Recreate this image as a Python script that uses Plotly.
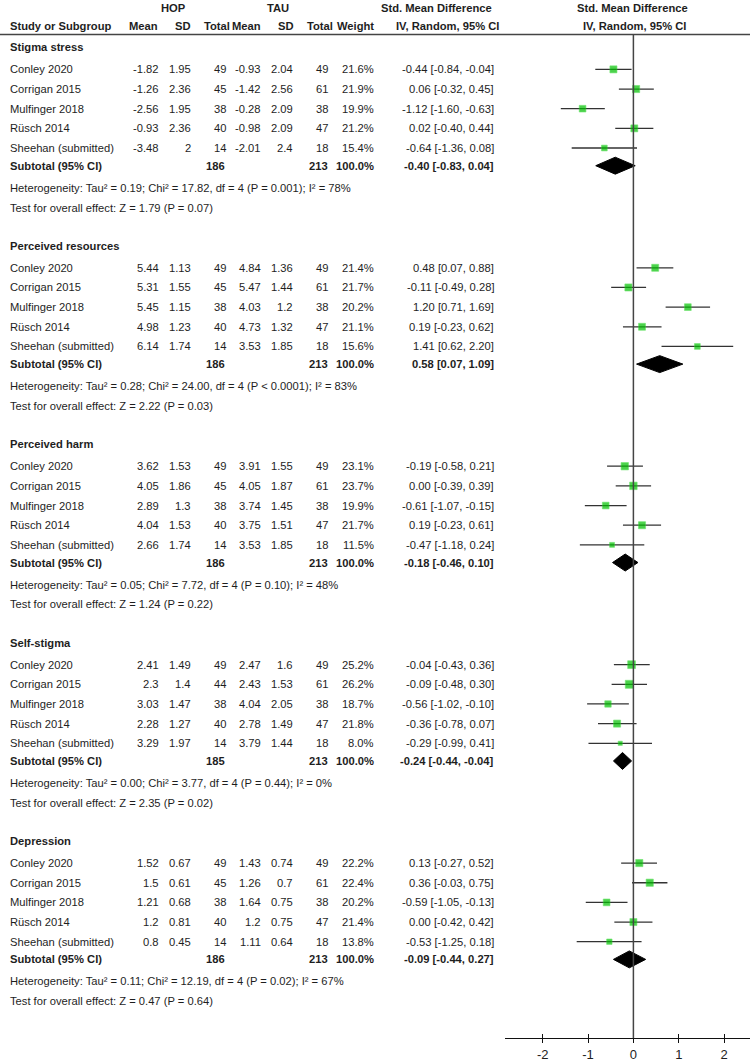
import plotly.graph_objects as go

# ---------------- data ----------------
groups = ["Stigma stress", "Perceived resources", "Perceived harm", "Self-stigma", "Depression"]
studies = ["Conley 2020", "Corrigan 2015", "Mulfinger 2018", "Rüsch 2014", "Sheehan (submitted)"]

hop_mean = [[-1.82, -1.26, -2.56, -0.93, -3.48],
            [5.44, 5.31, 5.45, 4.98, 6.14],
            [3.62, 4.05, 2.89, 4.04, 2.66],
            [2.41, 2.3, 3.03, 2.28, 3.29],
            [1.52, 1.5, 1.21, 1.2, 0.8]]
hop_sd = [[1.95, 2.36, 1.95, 2.36, 2],
          [1.13, 1.55, 1.15, 1.23, 1.74],
          [1.53, 1.86, 1.3, 1.53, 1.74],
          [1.49, 1.4, 1.47, 1.27, 1.97],
          [0.67, 0.61, 0.68, 0.81, 0.45]]
hop_n = [[49, 45, 38, 40, 14],
         [49, 45, 38, 40, 14],
         [49, 45, 38, 40, 14],
         [49, 44, 38, 40, 14],
         [49, 45, 38, 40, 14]]
tau_mean = [[-0.93, -1.42, -0.28, -0.98, -2.01],
            [4.84, 5.47, 4.03, 4.73, 3.53],
            [3.91, 4.05, 3.74, 3.75, 3.53],
            [2.47, 2.43, 4.04, 2.78, 3.79],
            [1.43, 1.26, 1.64, 1.2, 1.11]]
tau_sd = [[2.04, 2.56, 2.09, 2.09, 2.4],
          [1.36, 1.44, 1.2, 1.32, 1.85],
          [1.55, 1.87, 1.45, 1.51, 1.85],
          [1.6, 1.53, 2.05, 1.49, 1.44],
          [0.74, 0.7, 0.75, 0.75, 0.64]]
tau_n = [[49, 61, 38, 47, 18]] * 5
weights = [[21.6, 21.9, 19.9, 21.2, 15.4],
           [21.4, 21.7, 20.2, 21.1, 15.6],
           [23.1, 23.7, 19.9, 21.7, 11.5],
           [25.2, 26.2, 18.7, 21.8, 8.0],
           [22.2, 22.4, 20.2, 21.4, 13.8]]
smd = [[-0.44, 0.06, -1.12, 0.02, -0.64],
       [0.48, -0.11, 1.20, 0.19, 1.41],
       [-0.19, 0.00, -0.61, 0.19, -0.47],
       [-0.04, -0.09, -0.56, -0.36, -0.29],
       [0.13, 0.36, -0.59, 0.00, -0.53]]
smd_lo = [[-0.84, -0.32, -1.60, -0.40, -1.36],
          [0.07, -0.49, 0.71, -0.23, 0.62],
          [-0.58, -0.39, -1.07, -0.23, -1.18],
          [-0.43, -0.48, -1.02, -0.78, -0.99],
          [-0.27, -0.03, -1.05, -0.42, -1.25]]
smd_hi = [[-0.04, 0.45, -0.63, 0.44, 0.08],
          [0.88, 0.28, 1.69, 0.62, 2.20],
          [0.21, 0.39, -0.15, 0.61, 0.24],
          [0.36, 0.30, -0.10, 0.07, 0.41],
          [0.52, 0.75, -0.13, 0.42, 0.18]]
sub_est = [-0.40, 0.58, -0.18, -0.24, -0.09]
sub_lo = [-0.83, 0.07, -0.46, -0.44, -0.44]
sub_hi = [0.04, 1.09, 0.10, -0.04, 0.27]
sub_hop_n = [186, 186, 186, 185, 186]
sub_tau_n = [213, 213, 213, 213, 213]
heterogeneity = ["Tau² = 0.19; Chi² = 17.82, df = 4 (P = 0.001); I² = 78%",
                 "Tau² = 0.28; Chi² = 24.00, df = 4 (P < 0.0001); I² = 83%",
                 "Tau² = 0.05; Chi² = 7.72, df = 4 (P = 0.10); I² = 48%",
                 "Tau² = 0.00; Chi² = 3.77, df = 4 (P = 0.44); I² = 0%",
                 "Tau² = 0.11; Chi² = 12.19, df = 4 (P = 0.02); I² = 67%"]
overall = ["Z = 1.79 (P = 0.07)", "Z = 2.22 (P = 0.03)", "Z = 1.24 (P = 0.22)",
           "Z = 2.35 (P = 0.02)", "Z = 0.47 (P = 0.64)"]
x_ticks = [-2, -1, 0, 1, 2]

# ---------------- layout constants ----------------
W, H = 750, 1062
FONT = "Liberation Sans, Arial, sans-serif"
FS = 11.2
TXT = "#1e1e1e"
GREEN = "#00c000"

GROUP_Y0, GROUP_STEP = 47.5, 198.8
STUDY_OFF, STUDY_STEP = 22, 19.7
SUB_OFF, HET_OFF, TEST_OFF = 118.5, 140.5, 160.5

# right edges of columns (px)
COL = dict(hm=160, hs=192, hn=227, tm=262, ts=294, tn=329, w=375, ci=495)
NAME_X = 9

ann = []


def txt(x, y, s, anchor="right", bold=False, size=FS):
    ann.append(dict(x=x / W, y=y, xref="paper", yref="y",
                    text=f"<b>{s}</b>" if bold else s, showarrow=False,
                    xanchor=anchor, yanchor="middle", borderpad=0,
                    font=dict(family=FONT, size=size, color=TXT)))


# header
txt(173, 8, "HOP", "center", True)
txt(278, 8, "TAU", "center", True)
txt(436, 8, "Std. Mean Difference", "center", True)
txt(632, 8, "Std. Mean Difference", "center", True)
hy = 26
txt(NAME_X, hy, "Study or Subgroup", "left", True)
txt(159, hy, "Mean", bold=True)
txt(192, hy, "SD", bold=True)
txt(231, hy, "Total", bold=True)
txt(262, hy, "Mean", bold=True)
txt(295, hy, "SD", bold=True)
txt(334, hy, "Total", bold=True)
txt(375, hy, "Weight", bold=True)
txt(447, hy, "IV, Random, 95% CI", "center", True)
txt(634, hy, "IV, Random, 95% CI", "center", True)

fig = go.Figure()

for g, gname in enumerate(groups):
    y0 = GROUP_Y0 + g * GROUP_STEP
    txt(NAME_X, y0, gname, "left", True)
    ys = [y0 + STUDY_OFF + i * STUDY_STEP for i in range(len(studies))]
    for i, s in enumerate(studies):
        y = ys[i]
        txt(NAME_X, y, s, "left")
        txt(COL["hm"], y, f"{hop_mean[g][i]:g}")
        txt(COL["hs"], y, f"{hop_sd[g][i]:g}")
        txt(COL["hn"], y, f"{hop_n[g][i]}")
        txt(COL["tm"], y, f"{tau_mean[g][i]:g}")
        txt(COL["ts"], y, f"{tau_sd[g][i]:g}")
        txt(COL["tn"], y, f"{tau_n[g][i]}")
        txt(COL["w"], y, f"{weights[g][i]:.1f}%")
        txt(COL["ci"], y, f"{smd[g][i]:.2f} [{smd_lo[g][i]:.2f}, {smd_hi[g][i]:.2f}]")
    ysub = y0 + SUB_OFF
    txt(NAME_X, ysub, "Subtotal (95% CI)", "left", True)
    txt(COL["hn"] - 1, ysub, f"{sub_hop_n[g]}", bold=True)
    txt(COL["tn"], ysub, f"{sub_tau_n[g]}", bold=True)
    txt(COL["w"], ysub, "100.0%", bold=True)
    txt(COL["ci"], ysub, f"{sub_est[g]:.2f} [{sub_lo[g]:.2f}, {sub_hi[g]:.2f}]", bold=True)
    txt(NAME_X, y0 + HET_OFF, "Heterogeneity: " + heterogeneity[g], "left")
    txt(NAME_X, y0 + TEST_OFF, "Test for overall effect: " + overall[g], "left")

    # CI whiskers
    lx, ly = [], []
    for i in range(len(studies)):
        lx += [smd_lo[g][i], smd_hi[g][i], None]
        ly += [ys[i], ys[i], None]
    fig.add_trace(go.Scatter(x=lx, y=ly, mode="lines",
                             line=dict(color="#333333", width=1.3),
                             hoverinfo="skip", showlegend=False))
    # squares
    fig.add_trace(go.Scatter(x=smd[g], y=ys, mode="markers",
                             marker=dict(symbol="square", color=GREEN,
                                         size=[2.5 + 0.21 * w for w in weights[g]],
                                         line=dict(color="#2fd82f", width=0.6)),
                             hoverinfo="skip", showlegend=False))
    # diamond
    dh = 8.5
    fig.add_trace(go.Scatter(x=[sub_lo[g], sub_est[g], sub_hi[g], sub_est[g], sub_lo[g]],
                             y=[ysub, ysub - dh, ysub, ysub + dh, ysub],
                             mode="lines", fill="toself", fillcolor="black",
                             line=dict(color="black", width=1),
                             hoverinfo="skip", showlegend=False))

AX_Y = 1040
X_LEFT_PX = 505
x_min, x_max = -2.83, 2.57

shapes = [
    dict(type="line", xref="paper", yref="y", x0=0, x1=1, y0=34.5, y1=34.5,
         line=dict(color="#444444", width=1.5)),
    dict(type="line", xref="x", yref="y", x0=0, x1=0, y0=34.5, y1=AX_Y,
         line=dict(color="#444444", width=1.5)),
]

axis_common = dict(domain=[X_LEFT_PX / W, 1], range=[x_min, x_max], anchor="free",
                   position=(H - AX_Y) / H, showgrid=False, zeroline=False,
                   showline=True, linecolor="#111111", linewidth=1.3,
                   tickvals=x_ticks, ticktext=[str(t) for t in x_ticks],
                   tickcolor="#111111", tickwidth=1.3, ticklen=4)

fig.update_layout(
    width=W, height=H, margin=dict(l=0, r=0, t=0, b=0),
    paper_bgcolor="white", plot_bgcolor="white",
    xaxis=dict(**axis_common, ticks="outside",
               tickfont=dict(family=FONT, size=13, color=TXT)),
    xaxis2=dict(**axis_common, ticks="inside", overlaying="x", showticklabels=False),
    yaxis=dict(range=[H, 0], domain=[0, 1], visible=False),
    annotations=ann, shapes=shapes, showlegend=False,
)
# empty trace to activate xaxis2
fig.add_trace(go.Scatter(x=[None], y=[None], xaxis="x2", yaxis="y", showlegend=False))

fig.write_html("out.html", config={"displayModeBar": False},
               post_script="document.body.style.margin='0';document.body.style.overflow='hidden';")
